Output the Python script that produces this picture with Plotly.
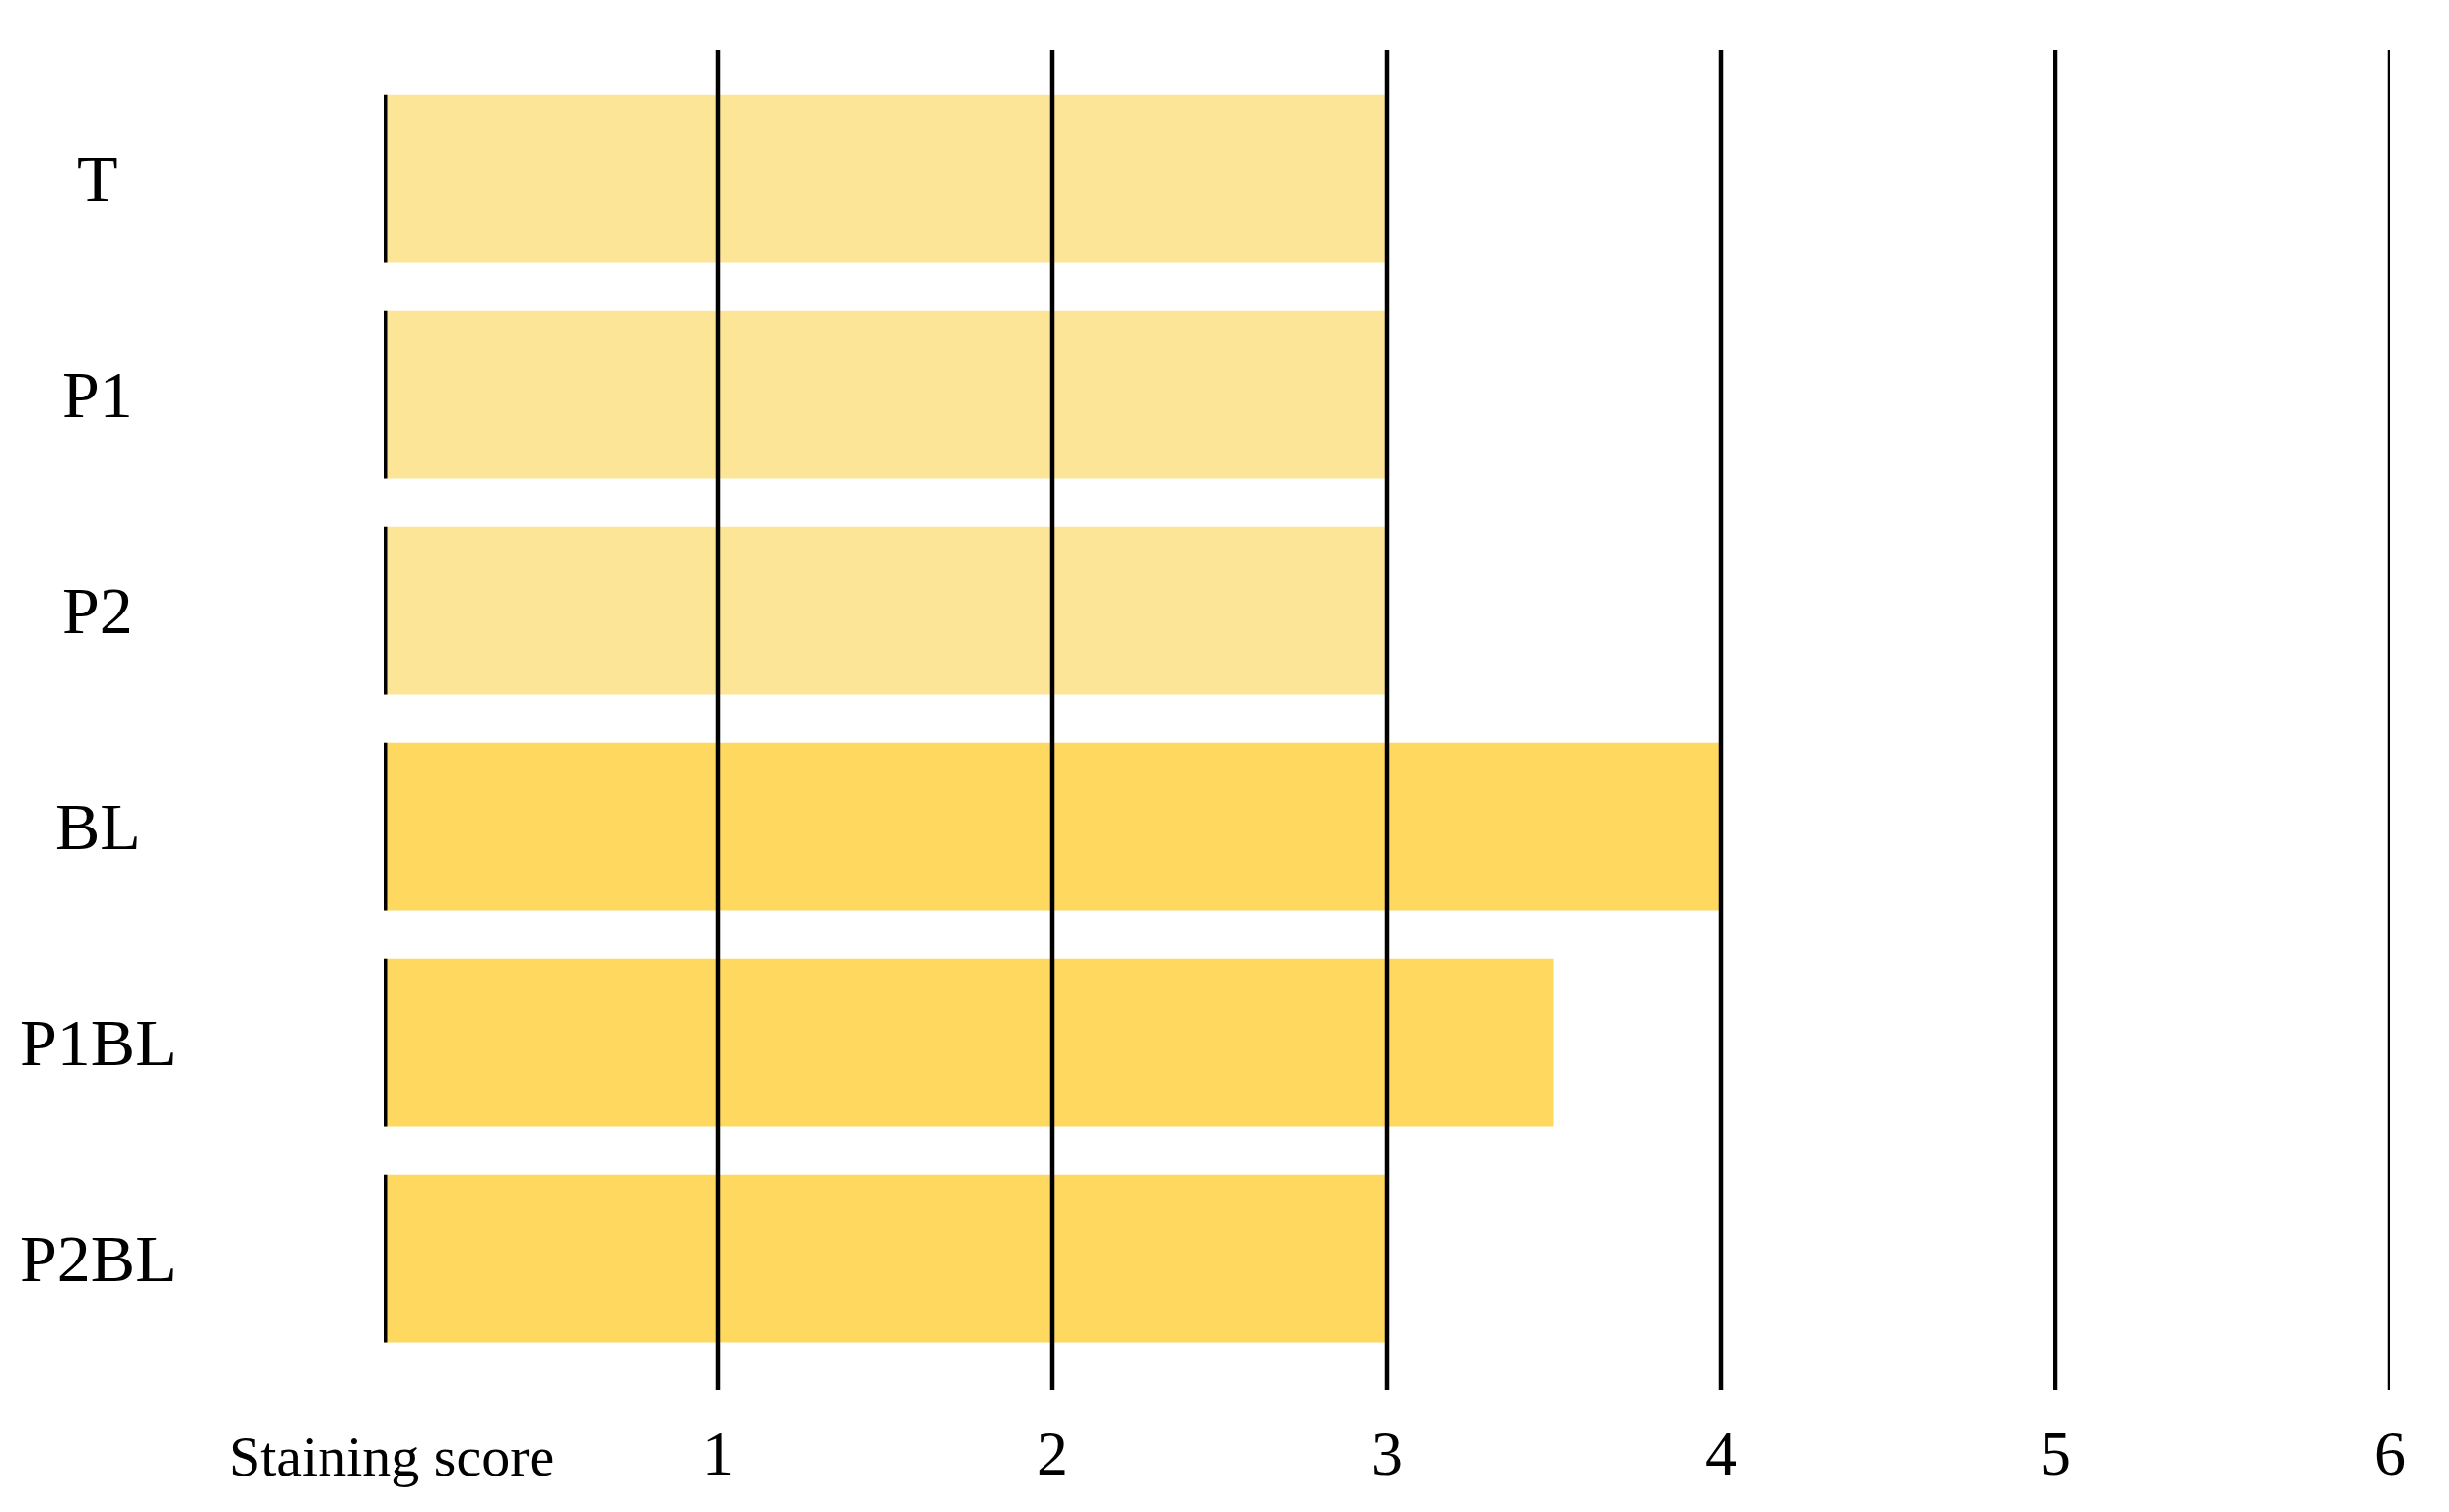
import plotly.graph_objects as go

categories = ["T", "P1", "P2", "BL", "P1BL", "P2BL"]
scores = [3, 3, 3, 4, 3.5, 3]
colors = ["#FDE598", "#FDE598", "#FDE598", "#FFD95F", "#FFD95F", "#FFD95F"]
tick_values = [1, 2, 3, 4, 5, 6]
axis_title = "Staining score"

W, H = 2483, 1533
L, R, T, B = 381, 68, 43, 132
ph = H - T - B
pw = W - L - R
ypos = list(range(len(categories)))

fig = go.Figure(go.Bar(
    x=scores, y=ypos, orientation="h", marker=dict(color=colors, line=dict(width=0)),
    width=0.78, showlegend=False, hoverinfo="skip"))

shapes = []
for v in tick_values:
    shapes.append(dict(type="line", xref="x", yref="paper", x0=v, x1=v, y0=0, y1=1,
                       line=dict(color="black", width=4.5), layer="above"))
for i in ypos:
    shapes.append(dict(type="line", xref="x", yref="y", x0=0, x1=0, y0=i - 0.39, y1=i + 0.39,
                       line=dict(color="black", width=7), layer="above"))

ann = []
font = "Liberation Serif, serif"
for i, c in enumerate(categories):
    ann.append(dict(x=(91 - L) / pw, xref="paper", y=i, yref="y", text=c, showarrow=False,
                    font=dict(family=font, size=68, color="black"), xanchor="center"))
ty = -(1503 - (H - B)) / ph
for v in tick_values:
    ann.append(dict(x=v, xref="x", y=ty, yref="paper", text=str(v), showarrow=False,
                    font=dict(family=font, size=64, color="black")))
ann.append(dict(x=(222 - L) / pw, xref="paper", y=ty, yref="paper", text=axis_title,
                showarrow=False, font=dict(family=font, size=58, color="black")))

fig.update_layout(
    width=W, height=H, margin=dict(l=L, r=R, t=T, b=B),
    plot_bgcolor="white", paper_bgcolor="white",
    xaxis=dict(range=[0, 6], showgrid=False, zeroline=False, showticklabels=False, ticks=""),
    yaxis=dict(range=[5.607, -0.594], showgrid=False, zeroline=False, showticklabels=False, ticks=""),
    shapes=shapes, annotations=ann)
fig.write_html("out.html")
